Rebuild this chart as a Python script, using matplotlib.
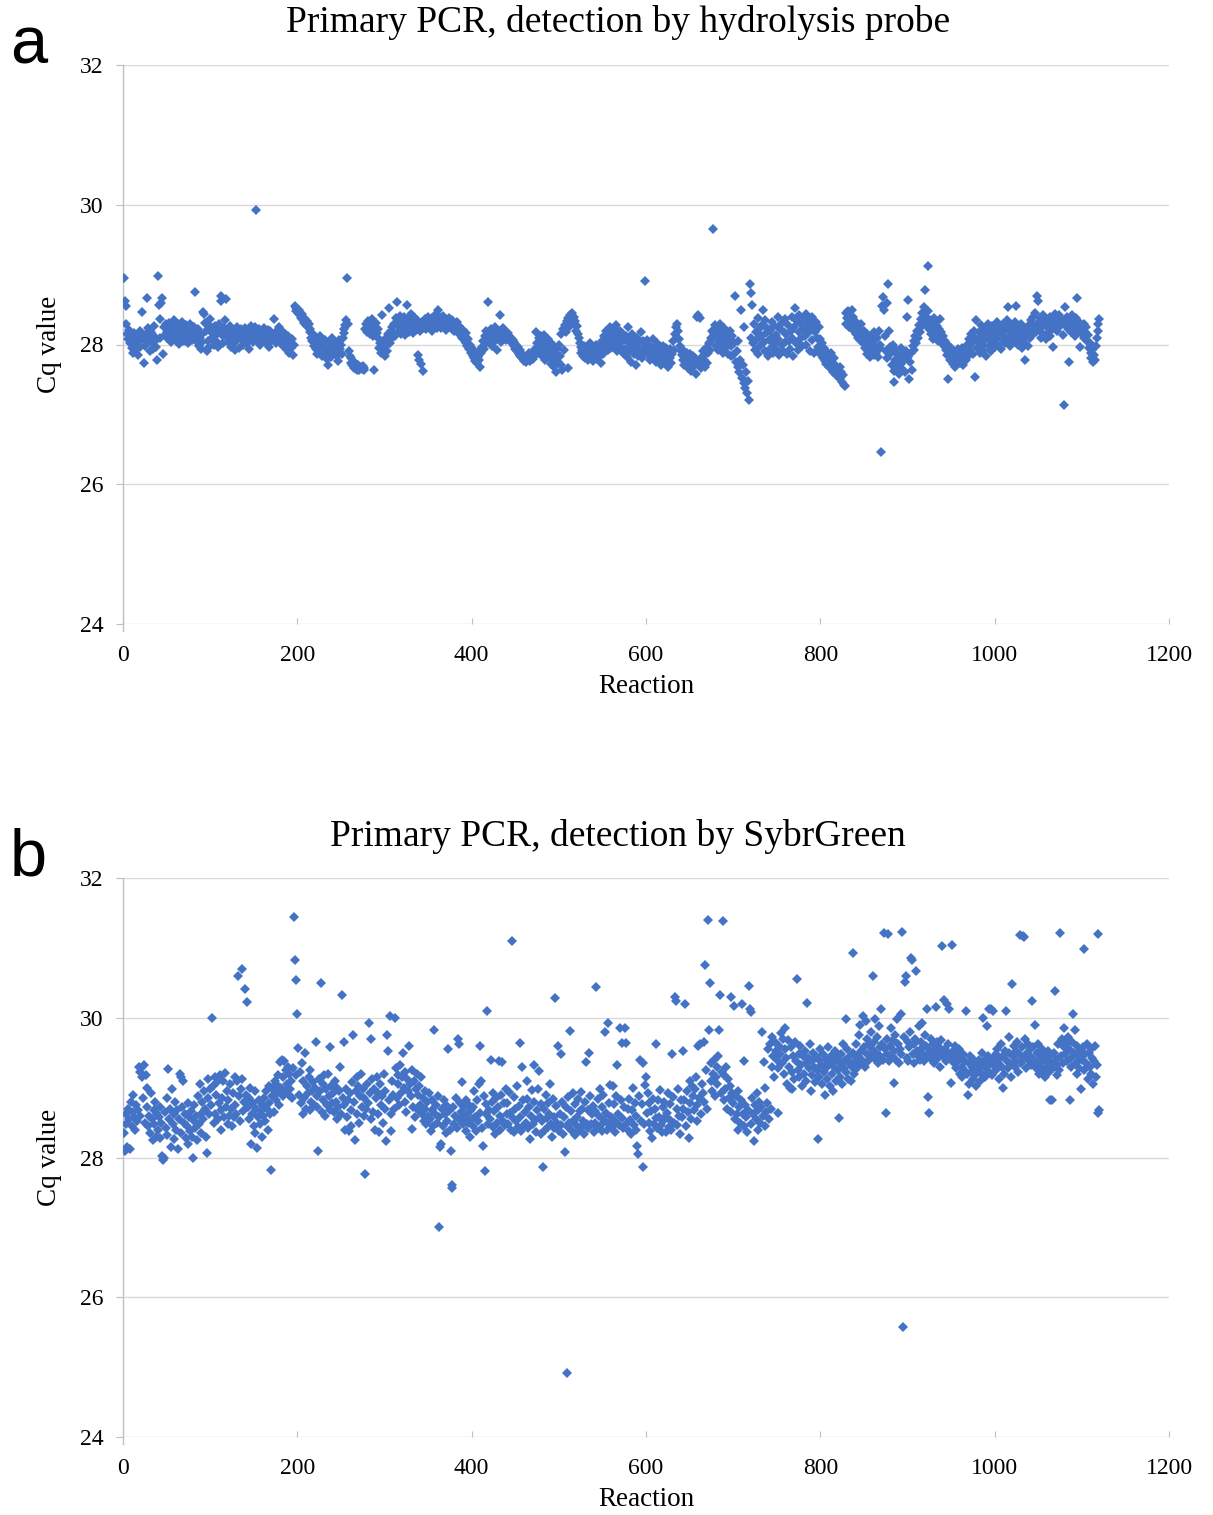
import numpy as np
import matplotlib
matplotlib.use('Agg')
import matplotlib.pyplot as plt

# Cq values, one per reaction (1..1120)
cq_probe = [
    28.95, 28.62, 28.55, 28.30, 28.15, 28.08, 28.21, 28.02, 28.13, 27.95, 27.88, 28.05, 28.17, 27.92, 28.10, 28.01, 27.85, 28.12, 28.20, 27.97,
    28.06, 28.46, 28.11, 27.74, 27.98, 28.15, 28.03, 28.66, 28.24, 28.08, 27.90, 28.18, 28.02, 27.93, 28.12, 28.27, 28.05, 27.96, 27.78, 28.98,
    28.56, 28.37, 28.10, 28.60, 28.66, 27.87, 28.25, 28.14, 28.30, 28.18, 28.09, 28.22, 28.31, 28.12, 28.04, 28.27, 28.16, 28.35, 28.20, 28.08,
    28.23, 28.14, 28.29, 28.01, 28.19, 28.26, 28.10, 28.32, 28.15, 28.05, 28.21, 28.28, 28.12, 28.18, 28.02, 28.24, 28.30, 28.13, 28.07, 28.20,
    28.16, 28.25, 28.75, 28.11, 28.04, 28.22, 27.98, 28.09, 27.93, 28.13, 28.03, 28.47, 28.44, 28.31, 28.20, 27.90, 27.95, 28.05, 28.28, 28.36,
    28.18, 28.09, 28.24, 27.99, 28.12, 28.27, 28.05, 28.16, 27.96, 28.30, 28.21, 28.70, 28.62, 28.13, 28.02, 28.24, 28.35, 28.65, 28.11, 28.19,
    28.04, 28.15, 28.26, 27.97, 28.08, 28.20, 28.12, 27.92, 28.03, 28.17, 28.25, 28.09, 27.95, 28.14, 28.22, 28.06, 28.18, 27.99, 28.11, 28.24,
    28.13, 28.02, 28.20, 28.08, 27.94, 28.16, 28.27, 28.10, 28.03, 28.19, 28.12, 28.25, 29.93, 28.07, 28.15, 28.22, 28.00, 28.11, 28.18, 28.06,
    28.14, 28.23, 28.04, 28.17, 28.09, 28.21, 27.96, 28.12, 28.20, 28.05, 28.13, 28.08, 28.37, 28.16, 28.02, 28.10, 28.19, 28.07, 28.25, 28.14,
    28.03, 28.11, 28.18, 27.98, 28.09, 28.15, 28.06, 27.92, 28.12, 28.01, 27.88, 28.04, 27.95, 28.08, 27.85, 28.00, 28.55, 28.52, 28.48, 28.51,
    28.45, 28.50, 28.42, 28.38, 28.44, 28.35, 28.40, 28.31, 28.36, 28.28, 28.33, 28.25, 28.30, 28.18, 28.22, 28.10, 28.05, 28.15, 27.98, 28.02,
    27.93, 28.08, 27.87, 28.00, 27.95, 28.12, 27.90, 27.83, 28.04, 27.97, 27.88, 28.06, 27.92, 27.79, 27.70, 27.86, 28.01, 27.94, 27.82, 28.10,
    27.98, 27.89, 28.03, 27.91, 27.84, 27.96, 27.76, 28.07, 27.93, 27.99, 27.86, 28.10, 28.16, 28.22, 28.28, 28.35, 28.95, 28.30, 27.90, 27.84,
    27.80, 27.74, 27.70, 27.76, 27.66, 27.69, 27.72, 27.64, 27.67, 27.70, 27.63, 27.66, 27.68, 27.65, 27.69, 27.64, 27.67, 28.22, 28.30, 28.18,
    28.34, 28.25, 28.15, 28.28, 28.20, 28.36, 28.12, 27.64, 28.24, 28.31, 28.17, 28.09, 28.22, 27.95, 28.02, 27.88, 28.42, 27.92, 28.05, 27.84,
    27.97, 28.10, 27.90, 28.15, 28.52, 28.02, 28.20, 28.08, 28.25, 28.18, 28.30, 28.12, 28.38, 28.61, 28.27, 28.35, 28.20, 28.41, 28.15, 28.32,
    28.24, 28.39, 28.13, 28.30, 28.22, 28.57, 28.36, 28.18, 28.28, 28.43, 28.25, 28.33, 28.16, 28.40, 28.27, 28.21, 28.35, 27.85, 28.30, 27.78,
    28.19, 27.72, 28.32, 27.62, 28.24, 28.28, 28.36, 28.22, 28.31, 28.40, 28.25, 28.34, 28.29, 28.38, 28.20, 28.33, 28.27, 28.42, 28.30, 28.24,
    28.50, 28.35, 28.28, 28.39, 28.23, 28.32, 28.41, 28.26, 28.36, 28.30, 28.21, 28.34, 28.27, 28.38, 28.25, 28.31, 28.22, 28.35, 28.28, 28.19,
    28.30, 28.25, 28.32, 28.20, 28.27, 28.15, 28.24, 28.18, 28.10, 28.21, 28.12, 28.05, 28.16, 28.02, 27.98, 28.08, 27.93, 28.00, 27.88, 27.95,
    27.84, 27.90, 27.80, 27.76, 27.86, 27.73, 27.82, 27.78, 27.92, 27.68, 27.88, 27.97, 28.05, 27.93, 28.12, 28.02, 28.20, 28.10, 28.61, 28.15,
    28.06, 28.22, 27.98, 28.13, 28.18, 28.04, 28.25, 28.10, 27.92, 28.16, 28.08, 28.42, 28.20, 28.03, 28.14, 28.24, 28.11, 28.19, 28.06, 28.15,
    28.09, 28.17, 28.12, 28.05, 28.10, 28.02, 28.07, 27.98, 28.04, 27.94, 28.00, 27.90, 27.96, 27.86, 27.92, 27.83, 27.88, 27.80, 27.85, 27.77,
    27.82, 27.75, 27.79, 27.84, 27.78, 27.88, 27.76, 27.81, 27.86, 27.79, 27.90, 27.84, 27.93, 28.18, 28.02, 27.88, 28.10, 27.96, 28.12, 27.85,
    28.05, 27.92, 28.14, 27.78, 28.00, 27.87, 28.08, 27.95, 27.82, 28.03, 27.72, 27.90, 27.80, 27.98, 27.68, 27.86, 27.60, 27.94, 27.75, 28.00,
    27.84, 27.70, 28.15, 27.64, 28.22, 27.92, 28.28, 28.18, 28.33, 27.66, 28.38, 28.25, 28.42, 28.30, 28.45, 28.36, 28.40, 28.28, 28.33, 28.20,
    28.26, 28.15, 28.10, 28.02, 27.96, 27.88, 27.92, 27.84, 27.98, 27.80, 27.90, 27.85, 27.95, 27.78, 27.88, 28.02, 27.82, 27.93, 27.76, 27.87,
    27.94, 27.83, 28.00, 27.79, 27.89, 27.96, 27.85, 27.73, 27.91, 28.05, 27.86, 28.12, 27.97, 28.20, 28.08, 27.92, 28.15, 28.02, 28.25, 27.95,
    28.10, 28.18, 27.98, 28.22, 28.05, 28.28, 27.90, 28.14, 28.03, 28.20, 27.96, 28.08, 28.16, 27.88, 28.06, 27.94, 28.12, 27.82, 28.25, 28.02,
    27.92, 28.08, 27.75, 28.15, 27.98, 27.86, 28.04, 27.70, 27.95, 28.10, 27.84, 28.02, 27.90, 28.18, 27.80, 28.05, 27.93, 27.88, 28.91, 27.97,
    28.06, 27.92, 27.85, 28.00, 27.78, 27.94, 27.88, 28.08, 27.82, 27.96, 27.75, 27.90, 28.02, 27.86, 27.80, 27.93, 27.70, 27.87, 27.98, 27.83,
    27.91, 27.76, 27.95, 27.84, 27.68, 27.89, 27.80, 27.94, 27.73, 27.86, 28.05, 27.92, 28.15, 28.25, 28.10, 28.30, 28.20, 28.08, 27.98, 27.90,
    27.85, 27.78, 27.92, 27.70, 27.82, 27.75, 27.88, 27.66, 27.80, 27.73, 27.86, 27.62, 27.77, 27.84, 27.69, 27.80, 27.58, 28.40, 27.75, 28.42,
    27.72, 28.38, 27.66, 27.82, 27.90, 27.78, 27.85, 27.68, 27.95, 27.74, 27.88, 28.02, 27.92, 28.10, 28.05, 28.20, 29.65, 28.15, 28.28, 27.98,
    28.12, 28.22, 27.92, 28.06, 28.30, 28.00, 28.18, 27.88, 28.10, 28.24, 27.95, 28.04, 28.15, 27.86, 28.08, 28.20, 27.98, 27.84, 28.12, 27.85,
    28.02, 28.70, 27.75, 27.90, 27.68, 28.05, 27.60, 27.78, 28.50, 27.52, 27.70, 27.45, 28.25, 27.38, 27.60, 27.30, 27.48, 27.20, 28.86, 28.73,
    28.10, 28.56, 28.02, 28.30, 27.92, 28.18, 28.08, 28.38, 27.86, 28.22, 27.98, 28.12, 28.28, 28.50, 28.04, 28.35, 27.90, 28.16, 28.24, 27.84,
    28.06, 28.20, 27.95, 28.32, 28.10, 27.88, 28.26, 28.02, 28.14, 27.92, 28.40, 28.08, 27.85, 28.22, 28.30, 28.00, 27.90, 28.18, 28.36, 28.04,
    28.15, 27.86, 28.28, 28.05, 27.94, 28.20, 28.40, 28.10, 27.84, 28.25, 28.52, 28.02, 28.34, 27.92, 28.18, 28.42, 28.08, 28.30, 27.98, 28.22,
    28.38, 28.12, 28.44, 28.00, 28.28, 28.16, 28.35, 27.90, 28.22, 28.40, 28.06, 28.30, 27.88, 28.18, 28.32, 28.10, 27.96, 28.25, 27.92, 28.08,
    27.85, 28.02, 27.80, 27.95, 27.76, 27.90, 27.72, 27.86, 27.82, 27.68, 27.78, 27.88, 27.65, 27.74, 27.60, 27.80, 27.70, 27.56, 27.66, 27.62,
    27.54, 27.68, 27.50, 27.60, 27.46, 27.56, 27.42, 27.40, 28.30, 28.45, 28.38, 28.48, 28.25, 28.42, 28.35, 28.50, 28.28, 28.40, 28.20, 28.33,
    28.15, 28.26, 28.10, 28.22, 28.06, 28.18, 28.30, 28.12, 28.02, 28.20, 27.95, 28.08, 27.86, 28.15, 27.90, 28.02, 27.82, 28.12, 27.92, 28.05,
    27.85, 28.18, 27.98, 27.88, 28.10, 27.82, 28.20, 27.95, 28.00, 26.46, 28.55, 28.68, 28.50, 28.12, 27.90, 28.60, 27.80, 28.87, 28.20, 27.96,
    27.88, 27.70, 28.00, 27.62, 27.47, 27.78, 27.92, 27.68, 27.85, 27.58, 27.80, 27.72, 27.95, 27.65, 27.76, 27.86, 27.60, 27.90, 28.40, 28.64,
    27.82, 27.50, 27.75, 27.88, 27.64, 27.98, 28.05, 27.92, 28.12, 28.02, 28.20, 28.10, 28.28, 28.18, 28.36, 28.25, 28.45, 28.32, 28.54, 28.78,
    28.40, 28.30, 28.48, 29.13, 28.22, 28.35, 28.15, 28.28, 28.08, 28.38, 28.20, 28.32, 28.12, 28.26, 28.05, 28.22, 28.36, 28.10, 28.18, 28.02,
    28.12, 27.98, 28.05, 27.92, 27.85, 28.00, 27.50, 27.88, 27.78, 27.95, 27.82, 27.72, 27.90, 27.80, 27.68, 27.86, 27.76, 27.93, 27.84, 27.74,
    27.88, 27.80, 27.95, 27.70, 27.86, 27.92, 27.78, 28.00, 27.84, 27.96, 28.08, 27.90, 28.15, 28.02, 27.86, 28.20, 27.54, 28.10, 28.35, 27.95,
    28.05, 28.18, 27.88, 28.28, 28.00, 28.12, 27.92, 28.24, 28.06, 27.84, 28.16, 28.30, 27.98, 28.10, 28.20, 27.90, 28.26, 28.04, 28.14, 27.96,
    28.22, 28.08, 28.32, 28.00, 28.15, 28.25, 27.94, 28.18, 28.06, 28.30, 28.12, 28.02, 28.24, 28.35, 28.54, 28.10, 28.20, 27.98, 28.28, 28.14,
    28.05, 28.22, 28.32, 28.12, 28.55, 28.26, 28.00, 28.18, 28.08, 28.30, 27.95, 28.16, 28.24, 28.04, 27.78, 28.12, 28.20, 27.98, 28.28, 28.10,
    28.22, 28.35, 28.14, 28.40, 28.26, 28.45, 28.18, 28.70, 28.30, 28.62, 28.22, 28.38, 28.10, 28.32, 28.42, 28.15, 28.28, 28.36, 28.08, 28.25,
    28.34, 28.18, 28.40, 28.12, 28.30, 28.22, 27.97, 28.35, 28.44, 28.28, 28.38, 28.20, 28.32, 28.42, 28.26, 28.36, 28.30, 28.14, 27.13, 28.34,
    28.54, 28.28, 28.40, 28.22, 27.75, 28.35, 28.30, 28.18, 28.42, 28.26, 28.33, 28.12, 28.38, 28.66, 28.24, 28.20, 28.32, 27.97, 28.28, 28.15,
    28.22, 28.30, 28.10, 28.18, 28.25, 28.05, 28.14, 27.95, 28.02, 27.88, 27.80, 27.92, 27.75, 27.85, 27.78, 27.98, 28.10, 28.20, 28.30, 28.37,
]

cq_sybr = [
    28.35, 28.10, 28.62, 28.48, 28.15, 28.70, 28.55, 28.12, 28.80, 28.45, 28.65, 28.90, 28.58, 28.40, 28.75, 28.52, 28.68, 29.30, 29.22, 28.60,
    29.28, 29.15, 28.85, 29.32, 28.50, 29.18, 28.72, 29.00, 28.45, 28.60, 28.35, 28.92, 28.55, 28.25, 28.68, 28.48, 28.80, 28.30, 28.62, 28.40,
    28.58, 28.28, 28.72, 28.50, 28.02, 27.97, 28.00, 28.65, 28.42, 28.85, 28.32, 29.26, 28.55, 28.70, 28.15, 28.98, 28.48, 28.62, 28.26, 28.80,
    28.40, 28.68, 28.12, 28.55, 29.20, 28.35, 29.15, 28.72, 29.10, 28.50, 28.62, 28.28, 28.45, 28.78, 28.20, 28.58, 28.38, 28.66, 28.30, 28.00,
    28.52, 28.75, 28.42, 28.60, 28.25, 28.88, 28.48, 29.05, 28.62, 28.35, 28.80, 28.55, 28.95, 28.70, 28.30, 28.07, 28.85, 29.12, 28.62, 28.98,
    28.75, 29.99, 29.02, 28.50, 29.15, 28.62, 28.90, 29.08, 28.55, 28.78, 29.18, 28.68, 28.40, 28.85, 29.10, 28.58, 29.21, 28.72, 28.95, 28.48,
    28.82, 28.60, 29.05, 28.70, 28.45, 28.92, 28.58, 29.15, 28.75, 28.62, 29.10, 30.60, 28.88, 28.52, 28.98, 29.12, 30.70, 28.66, 28.80, 30.41,
    28.90, 30.22, 28.72, 28.55, 28.85, 29.00, 28.20, 28.62, 28.78, 28.45, 28.95, 28.35, 28.70, 28.14, 28.58, 28.82, 28.48, 28.66, 28.30, 28.75,
    28.60, 28.85, 28.52, 28.95, 28.70, 28.40, 29.02, 28.78, 28.62, 27.82, 28.88, 28.98, 28.65, 29.10, 28.82, 29.05, 28.92, 29.18, 28.75, 29.36,
    29.00, 29.40, 28.88, 29.15, 29.38, 28.95, 29.25, 29.05, 29.30, 28.90, 29.20, 28.98, 29.10, 28.85, 29.28, 31.44, 30.83, 30.54, 29.18, 30.05,
    29.57, 28.90, 29.22, 28.78, 29.35, 28.62, 29.10, 28.85, 29.50, 28.70, 29.02, 28.92, 29.15, 28.68, 29.25, 28.80, 28.95, 29.08, 28.75, 29.00,
    29.65, 28.88, 28.72, 28.10, 29.12, 28.95, 30.50, 28.65, 29.05, 28.82, 29.18, 28.60, 28.98, 28.75, 29.20, 28.88, 28.68, 29.58, 29.02, 28.78,
    28.92, 28.65, 29.10, 28.80, 28.55, 29.00, 28.72, 28.95, 29.30, 28.62, 30.32, 28.85, 29.65, 28.75, 28.40, 28.98, 28.58, 28.82, 28.38, 28.92,
    28.68, 28.45, 29.08, 29.76, 28.80, 28.25, 28.95, 29.15, 28.62, 29.02, 28.50, 28.88, 29.20, 28.72, 28.98, 28.60, 28.85, 27.77, 28.70, 29.05,
    28.78, 29.93, 28.92, 28.55, 29.70, 29.12, 28.65, 28.98, 28.40, 28.85, 29.15, 28.62, 28.92, 28.36, 29.05, 28.75, 28.88, 28.50, 29.20, 28.70,
    28.95, 28.24, 29.75, 29.52, 28.82, 30.03, 28.62, 28.38, 29.10, 28.90, 28.70, 30.00, 29.28, 28.85, 29.05, 29.18, 28.75, 29.32, 28.92, 29.15,
    29.50, 29.00, 28.80, 29.22, 28.65, 29.12, 28.95, 29.60, 29.05, 28.88, 28.41, 29.25, 28.72, 29.10, 28.58, 28.98, 29.20, 28.68, 28.90, 29.02,
    28.75, 29.15, 28.62, 28.85, 28.52, 28.95, 28.70, 28.48, 28.80, 28.60, 28.92, 28.55, 28.38, 28.68, 28.82, 28.45, 29.83, 28.62, 28.75, 28.50,
    28.88, 27.00, 28.58, 28.15, 28.20, 28.70, 28.45, 28.82, 28.62, 28.35, 28.75, 28.52, 29.55, 28.66, 28.40, 28.10, 27.60, 27.57, 28.72, 28.48,
    28.60, 28.85, 28.42, 29.70, 29.62, 28.55, 28.78, 28.65, 29.08, 28.48, 28.72, 28.58, 28.38, 28.82, 28.62, 28.50, 28.75, 28.30, 28.68, 28.55,
    28.72, 28.45, 28.95, 28.58, 28.38, 28.82, 28.52, 29.05, 28.64, 29.60, 29.10, 28.42, 28.17, 28.88, 27.81, 28.62, 28.76, 30.10, 28.48, 28.68,
    28.55, 29.40, 28.80, 28.44, 28.92, 28.66, 28.34, 28.85, 28.50, 28.72, 29.38, 28.60, 28.40, 28.90, 29.36, 28.52, 28.78, 28.46, 28.98, 28.62,
    28.78, 28.48, 28.94, 28.64, 28.40, 31.10, 28.56, 28.86, 28.36, 28.70, 28.52, 29.02, 28.44, 28.74, 29.64, 28.58, 28.38, 29.30, 28.82, 28.46,
    28.65, 28.50, 29.10, 28.84, 28.42, 28.72, 28.26, 28.60, 28.96, 28.48, 29.32, 28.80, 28.54, 28.36, 28.68, 28.98, 29.24, 28.58, 28.34, 28.76,
    28.52, 27.87, 28.70, 28.40, 28.90, 28.56, 28.44, 28.78, 28.62, 29.05, 28.48, 28.30, 28.84, 28.58, 28.42, 30.28, 28.74, 28.50, 29.60, 28.38,
    28.62, 29.48, 28.46, 28.80, 28.34, 28.58, 28.08, 28.72, 24.92, 28.44, 28.86, 28.50, 29.81, 28.66, 28.38, 28.92, 28.54, 28.32, 28.76, 28.46,
    28.58, 28.84, 28.40, 28.66, 28.94, 28.44, 28.70, 28.52, 28.34, 28.80, 29.36, 28.48, 28.68, 28.42, 29.50, 28.88, 28.48, 28.62, 28.74, 28.36,
    28.66, 28.50, 30.44, 28.44, 28.84, 28.60, 28.98, 28.46, 28.72, 28.38, 28.90, 28.54, 29.79, 28.64, 28.40, 29.93, 28.78, 28.48, 29.04, 28.58,
    28.44, 29.02, 28.76, 28.52, 28.36, 28.88, 29.33, 28.62, 28.46, 29.86, 28.82, 28.56, 29.64, 28.42, 28.72, 29.86, 29.64, 28.50, 28.70, 28.38,
    28.84, 28.54, 28.34, 28.68, 29.00, 28.46, 28.78, 28.60, 28.40, 28.17, 28.05, 28.88, 29.39, 28.52, 28.76, 29.35, 27.86, 28.48, 29.04, 29.15,
    28.64, 28.92, 28.50, 28.78, 28.38, 28.66, 28.28, 28.84, 28.48, 28.70, 29.63, 28.56, 28.42, 28.82, 28.58, 28.96, 28.46, 28.36, 28.72, 28.52,
    28.80, 28.58, 28.36, 28.64, 28.92, 28.44, 28.76, 28.54, 28.40, 29.48, 28.86, 28.50, 30.30, 30.24, 28.70, 28.46, 28.98, 28.60, 28.34, 28.82,
    28.58, 29.52, 28.70, 28.82, 30.20, 28.45, 28.95, 28.65, 28.28, 29.10, 28.78, 28.55, 29.02, 28.88, 28.68, 28.98, 29.15, 28.75, 28.52, 29.60,
    28.85, 29.62, 28.62, 29.05, 28.92, 29.65, 28.80, 30.76, 29.25, 28.70, 31.40, 29.83, 30.50, 29.10, 29.35, 28.95, 29.20, 29.40, 28.88, 29.15,
    29.30, 29.05, 29.45, 29.82, 30.33, 28.92, 29.22, 31.39, 28.82, 29.18, 28.98, 29.30, 28.70, 29.12, 28.85, 29.02, 30.30, 28.65, 28.92, 28.78,
    30.17, 28.55, 28.88, 28.62, 28.40, 28.95, 28.72, 28.50, 28.82, 30.20, 28.62, 28.45, 29.38, 28.75, 28.58, 28.36, 28.68, 30.45, 30.12, 30.08,
    28.48, 28.85, 28.62, 28.24, 28.75, 28.55, 28.92, 28.40, 28.68, 28.80, 28.50, 28.72, 29.79, 28.60, 29.36, 28.45, 29.00, 28.65, 28.78, 29.55,
    28.55, 29.62, 28.70, 29.30, 29.72, 29.45, 29.15, 29.65, 29.52, 29.40, 28.64, 29.28, 29.60, 29.48, 29.78, 29.35, 29.70, 29.20, 29.55, 29.85,
    29.42, 29.05, 29.68, 29.30, 29.00, 29.58, 29.22, 28.98, 29.45, 29.12, 29.65, 29.38, 30.55, 29.25, 29.48, 29.15, 29.60, 29.32, 29.02, 29.45,
    29.20, 29.52, 29.35, 29.10, 30.21, 29.42, 29.28, 29.62, 28.95, 29.38, 29.18, 29.50, 29.30, 29.08, 29.45, 29.25, 28.27, 29.40, 29.15, 29.55,
    29.32, 29.05, 29.48, 29.22, 28.90, 29.40, 29.28, 29.12, 29.58, 29.35, 29.02, 29.45, 29.20, 29.38, 28.95, 29.30, 29.52, 29.10, 29.42, 29.25,
    28.57, 29.35, 29.15, 29.48, 29.05, 29.62, 29.28, 29.40, 29.98, 29.22, 29.55, 29.12, 29.35, 29.45, 29.10, 29.30, 30.93, 29.50, 29.20, 29.38,
    29.62, 29.28, 29.45, 29.75, 29.35, 29.90, 29.52, 29.40, 30.02, 29.58, 29.30, 29.95, 29.48, 29.70, 29.38, 29.62, 29.45, 29.80, 29.55, 30.60,
    29.42, 29.65, 29.98, 29.50, 29.72, 29.35, 29.88, 29.58, 29.45, 30.13, 29.62, 29.40, 31.21, 29.55, 28.63, 29.70, 29.48, 31.20, 29.38, 29.60,
    29.85, 29.45, 29.68, 29.06, 29.52, 29.75, 29.40, 29.98, 29.62, 29.35, 29.55, 30.05, 29.48, 31.23, 25.58, 29.72, 30.51, 30.60, 29.42, 29.65,
    29.38, 29.58, 29.80, 30.86, 30.83, 29.48, 29.62, 29.35, 29.70, 30.67, 29.52, 29.45, 29.88, 29.40, 29.65, 29.55, 29.92, 29.48, 29.38, 29.75,
    29.60, 30.12, 28.87, 29.45, 28.63, 29.52, 29.70, 29.40, 29.62, 29.35, 29.55, 29.48, 30.15, 29.65, 29.42, 29.58, 29.30, 29.50, 29.68, 31.02,
    29.45, 30.26, 29.55, 29.38, 30.20, 29.62, 29.48, 30.12, 29.42, 29.07, 31.04, 29.52, 29.35, 29.60, 29.45, 29.28, 29.50, 29.38, 29.55, 29.20,
    29.42, 29.30, 29.15, 29.48, 29.25, 29.38, 30.10, 29.20, 28.90, 29.35, 29.05, 29.45, 29.22, 29.30, 29.12, 29.40, 29.18, 29.28, 29.02, 29.35,
    29.25, 29.40, 29.10, 29.32, 29.50, 29.20, 30.00, 29.38, 29.15, 29.28, 29.88, 29.45, 30.12, 29.22, 29.35, 30.12, 29.18, 30.10, 29.42, 29.30,
    29.48, 29.25, 29.55, 29.35, 29.12, 29.42, 29.62, 29.30, 28.99, 29.45, 29.20, 29.52, 30.10, 29.38, 29.28, 29.50, 29.72, 29.35, 29.15, 30.48,
    29.45, 29.60, 29.30, 29.52, 29.38, 29.65, 29.22, 29.48, 31.19, 29.35, 29.58, 31.17, 29.42, 31.15, 29.70, 29.28, 29.50, 29.62, 29.38, 29.55,
    29.45, 29.32, 30.24, 29.58, 29.40, 29.90, 29.28, 29.50, 29.35, 29.62, 29.20, 29.45, 29.30, 29.55, 29.38, 29.25, 29.48, 29.15, 29.40, 29.30,
    29.52, 29.22, 28.82, 29.45, 29.35, 28.82, 29.28, 29.50, 30.38, 29.40, 29.18, 29.32, 29.62, 29.25, 31.22, 29.45, 29.70, 29.35, 29.58, 29.85,
    29.48, 29.62, 29.38, 29.72, 29.55, 28.83, 29.42, 29.30, 29.65, 30.05, 29.50, 29.82, 29.35, 29.60, 29.20, 29.45, 29.28, 29.52, 28.98, 29.40,
    29.58, 30.99, 29.25, 29.48, 29.35, 29.62, 29.12, 29.50, 29.30, 29.55, 29.20, 29.42, 29.05, 29.38, 29.60, 29.15, 29.32, 28.64, 31.20, 28.68,
]

titles = ['Primary PCR, detection by hydrolysis probe', 'Primary PCR, detection by SybrGreen']
panel_tags = ['a', 'b']
x_ticks = [0, 200, 400, 600, 800, 1000, 1200]
y_ticks = [24, 26, 28, 30, 32]

W, H = 1213, 1515
fig = plt.figure(figsize=(W / 100, H / 100), dpi=100)
serif = 'Liberation Serif'

# pixel boxes of the two plot areas (left, top, right, bottom)
boxes = [(123, 65, 1169, 624), (123, 878, 1169, 1437)]
title_y = [22, 836]
tag_base = [63, 876]

for i, cq in enumerate([cq_probe, cq_sybr]):
    l, t, r, b = boxes[i]
    ax = fig.add_axes([l / W, 1 - b / H, (r - l) / W, (b - t) / H])
    reaction = np.arange(1, len(cq) + 1)
    ax.plot(reaction, cq, linestyle='none', marker='D', ms=5.4, mew=0,
            color='#4472C4', zorder=3)
    ax.set_xlim(0, 1200)
    ax.set_ylim(24, 32)
    ax.set_xticks(x_ticks)
    ax.set_yticks(y_ticks)
    ax.set_xticklabels([str(v) for v in x_ticks], fontname=serif, fontsize=17)
    ax.set_yticklabels([str(v) for v in y_ticks], fontname=serif, fontsize=17)
    ax.grid(axis='y', color='#D9D9D9', lw=1.0, zorder=0)
    for s in ['top', 'right', 'bottom']:
        ax.spines[s].set_visible(False)
    ax.spines['left'].set_color('#BFBFBF')
    ax.spines['left'].set_linewidth(1.0)
    ax.spines['left'].set_bounds(23.9, 32)
    ax.tick_params(axis='y', length=5, color='#BFBFBF', pad=9, direction='out')
    ax.tick_params(axis='x', length=4, color='#BFBFBF', pad=15, direction='in')
    ax.set_axisbelow(True)

    fig.text(618 / W, 1 - title_y[i] / H, titles[i], fontname=serif,
             fontsize=27, ha='center', va='center')
    fig.text(646 / W, 1 - (b + 63) / H, 'Reaction', fontname=serif,
             fontsize=19.5, ha='center', va='center')
    fig.text(50 / W, 1 - (t + b) / 2 / H, 'Cq value', fontname=serif,
             fontsize=19.5, ha='center', va='center', rotation=90)
    fig.text(10 / W, 1 - tag_base[i] / H, panel_tags[i], fontname='Liberation Sans',
             fontsize=48, ha='left', va='baseline')

fig.savefig('out.png', dpi=100)
